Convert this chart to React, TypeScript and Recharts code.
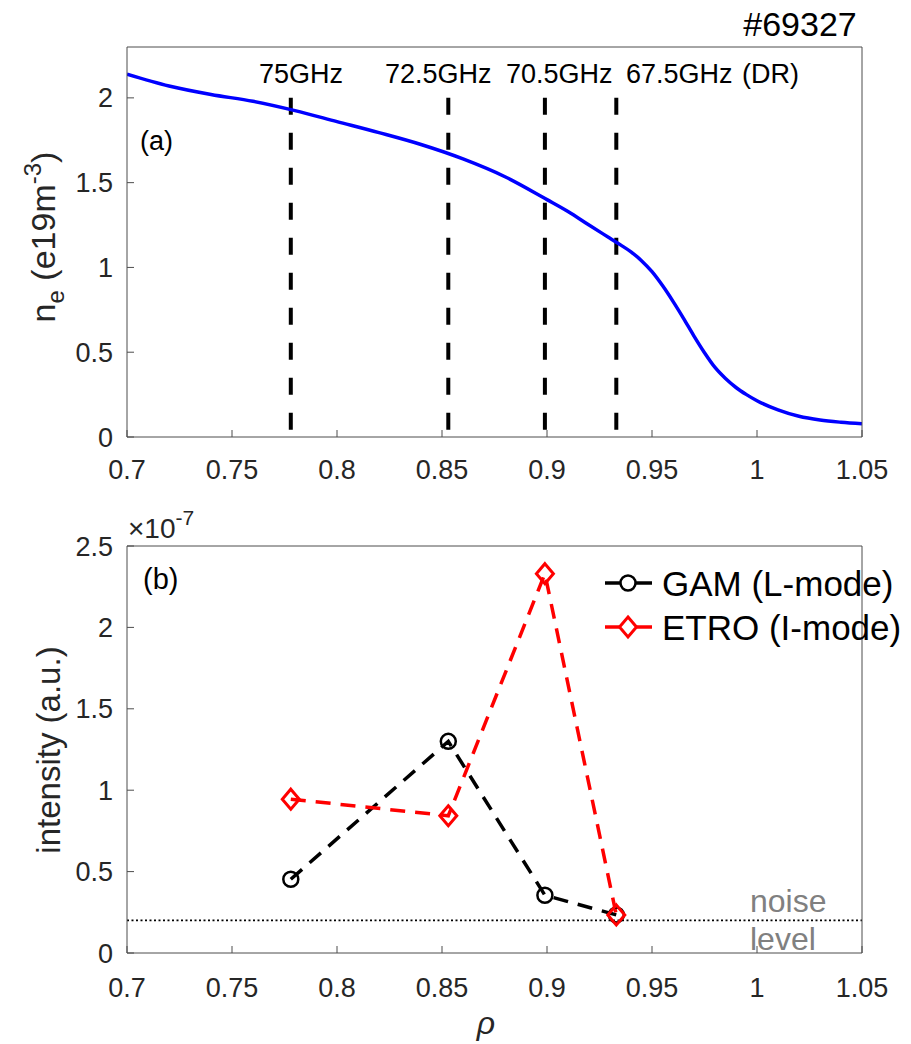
import { LineChart, Line, XAxis, YAxis, ReferenceLine, Legend } from 'recharts';

// panel (a): density profile
const rhoGrid = [0.70, 0.72, 0.74, 0.76, 0.78, 0.80, 0.82, 0.84, 0.86, 0.88, 0.90, 0.91, 0.92, 0.93, 0.935, 0.94, 0.945, 0.95, 0.955, 0.96, 0.965, 0.97, 0.975, 0.98, 0.985, 0.99, 0.995, 1.00, 1.01, 1.02, 1.03, 1.04, 1.05];
const neProfile = [2.14, 2.07, 2.02, 1.98, 1.925, 1.86, 1.795, 1.725, 1.64, 1.535, 1.40, 1.33, 1.25, 1.172, 1.133, 1.092, 1.04, 0.975, 0.893, 0.80, 0.70, 0.595, 0.497, 0.41, 0.345, 0.292, 0.25, 0.214, 0.16, 0.122, 0.10, 0.087, 0.078];

// DR channels
const channelRho = [0.778, 0.853, 0.899, 0.933];
const channelLabels = ['75GHz', '72.5GHz', '70.5GHz', '67.5GHz'];

// panel (b): intensity (x1e-7)
const gamIntensity = [0.453, 1.30, 0.355, 0.234];
const etroIntensity = [0.945, 0.843, 2.33, 0.234];
const noiseLevel = 0.2;

const rhoTicks = [0.7, 0.75, 0.8, 0.85, 0.9, 0.95, 1, 1.05];
const neTicks = [0, 0.5, 1, 1.5, 2];
const intensityTicks = [0, 0.5, 1, 1.5, 2, 2.5];

const profileData = rhoGrid.map((rho, i) => ({ rho, ne: neProfile[i] }));
const intensityData = channelRho.map((rho, i) => ({ rho, gam: gamIntensity[i], etro: etroIntensity[i] }));

const FONT = '"Liberation Sans", Arial, sans-serif';
const AXIS = '#4d4d4d';
const TXT = '#262626';
const tickStyle = { fontSize: 27, fill: TXT, fontFamily: FONT };

const fmt = (v: number) => String(v);

function circleDot(props: any) {
  const { cx, cy, index } = props;
  return <circle key={`c${index}`} cx={cx} cy={cy} r={7.5} fill="none" stroke="#000" strokeWidth={2.5} />;
}

function diamondDot(props: any) {
  const { cx, cy, index } = props;
  return (
    <path
      key={`d${index}`}
      d={`M${cx},${cy - 10} L${cx + 8.5},${cy} L${cx},${cy + 10} L${cx - 8.5},${cy} Z`}
      fill="none"
      stroke="#ff0000"
      strokeWidth={3}
    />
  );
}

function LegendBox(props: any) {
  const { payload = [] } = props;
  const order = ['gam', 'etro'];
  const items = order.map((k) => payload.find((p: any) => p.dataKey === k)).filter(Boolean);
  return (
    <div style={{ fontFamily: FONT, fontSize: 35, color: '#000', lineHeight: 1 }}>
      {items.map((p: any) => (
        <div key={p.value} style={{ display: 'flex', alignItems: 'center', height: 44 }}>
          <svg width={58} height={30} style={{ marginRight: 2, flex: 'none' }}>
            <line x1={3} y1={15} x2={50} y2={15} stroke={p.color} strokeWidth={3.5} />
            {p.dataKey === 'gam' ? (
              <circle cx={26} cy={15} r={7.5} fill="#fff" stroke={p.color} strokeWidth={2.5} />
            ) : (
              <path d="M26,5 L34.5,15 L26,25 L17.5,15 Z" fill="#fff" stroke={p.color} strokeWidth={3} />
            )}
          </svg>
          <span style={{ whiteSpace: 'nowrap' }}>{p.value}</span>
        </div>
      ))}
    </div>
  );
}

function DensityPanel() {
  return (
    <LineChart width={911} height={500} data={profileData} margin={{ top: 37, right: 39, bottom: 23, left: 67 }}>
      <XAxis
        xAxisId="b"
        dataKey="rho"
        type="number"
        domain={[0.7, 1.05]}
        ticks={rhoTicks}
        tickFormatter={fmt}
        height={40}
        tickSize={-7}
        tickMargin={30}
        stroke={AXIS}
        tick={tickStyle}
        allowDataOverflow
      />
      <XAxis xAxisId="t" orientation="top" dataKey="rho" type="number" domain={[0.7, 1.05]} ticks={rhoTicks} height={10} tickSize={-7} tick={false} stroke={AXIS} />
      <YAxis
        yAxisId="l"
        domain={[0, 2.3]}
        ticks={neTicks}
        tickFormatter={fmt}
        width={60}
        tickSize={-7}
        tickMargin={21}
        stroke={AXIS}
        tick={tickStyle}
        allowDataOverflow
      />
      <YAxis yAxisId="r" orientation="right" domain={[0, 2.3]} ticks={neTicks} width={10} tickSize={-7} tick={false} stroke={AXIS} />
      {channelRho.map((r) => (
        <ReferenceLine
          key={r}
          xAxisId="b"
          yAxisId="l"
          segment={[{ x: r, y: 2 }, { x: r, y: 0 }]}
          stroke="#000"
          strokeWidth={4}
          strokeDasharray="17 18"
        />
      ))}
      <Line
        xAxisId="b"
        yAxisId="l"
        type="monotone"
        dataKey="ne"
        stroke="#0000ff"
        strokeWidth={3.5}
        dot={false}
        isAnimationActive={false}
      />
      <text x={800} y={36} textAnchor="middle" fontFamily={FONT} fontSize={34} fill="#000">#69327</text>
      <g fontFamily={FONT} fontSize={27} fill="#000">
        <text x={259} y={83}>{channelLabels[0]}</text>
        <text x={385} y={83}>{channelLabels[1]}</text>
        <text x={506} y={83}>{channelLabels[2]}</text>
        <text x={626} y={83}>{channelLabels[3]}</text>
        <text x={742} y={83}>(DR)</text>
        <text x={140} y={150}>(a)</text>
      </g>
      <text
        x={0}
        y={0}
        transform="translate(55,237) rotate(-90)"
        textAnchor="middle"
        fontFamily={FONT}
        fontSize={34}
        fill={TXT}
      >
        n<tspan fontSize={24} dy={9}>e</tspan>
        <tspan dy={-9}> (e19m</tspan>
        <tspan fontSize={24} dy={-14}>-3</tspan>
        <tspan dy={14}>)</tspan>
      </text>
    </LineChart>
  );
}

function IntensityPanel() {
  return (
    <LineChart width={911} height={544} data={intensityData} margin={{ top: 36, right: 39, bottom: 41, left: 67 }}>
      <XAxis
        xAxisId="b"
        dataKey="rho"
        type="number"
        domain={[0.7, 1.05]}
        ticks={rhoTicks}
        tickFormatter={fmt}
        height={50}
        tickSize={-7}
        tickMargin={32}
        stroke={AXIS}
        tick={tickStyle}
        allowDataOverflow
      />
      <XAxis xAxisId="t" orientation="top" dataKey="rho" type="number" domain={[0.7, 1.05]} ticks={rhoTicks} height={10} tickSize={-7} tick={false} stroke={AXIS} />
      <YAxis
        yAxisId="l"
        domain={[0, 2.5]}
        ticks={intensityTicks}
        tickFormatter={fmt}
        width={60}
        tickSize={-7}
        tickMargin={21}
        stroke={AXIS}
        tick={tickStyle}
        allowDataOverflow
      />
      <YAxis yAxisId="r" orientation="right" domain={[0, 2.5]} ticks={intensityTicks} width={10} tickSize={-7} tick={false} stroke={AXIS} />
      <ReferenceLine xAxisId="b" yAxisId="l" y={noiseLevel} stroke="#000" strokeWidth={1.8} strokeDasharray="2 2.5" />
      <Line
        xAxisId="b"
        yAxisId="l"
        dataKey="gam"
        name="GAM (L-mode)"
        stroke="#000"
        strokeWidth={3.5}
        strokeDasharray="15 10"
        dot={circleDot}
        isAnimationActive={false}
      />
      <Line
        xAxisId="b"
        yAxisId="l"
        dataKey="etro"
        name="ETRO (I-mode)"
        stroke="#ff0000"
        strokeWidth={3.5}
        strokeDasharray="15 10"
        dot={diamondDot}
        isAnimationActive={false}
      />
      <Legend
        layout="horizontal"
        verticalAlign="middle"
        align="center"
        content={LegendBox}
        wrapperStyle={{ position: 'absolute', top: 61, left: 602, width: 320 }}
      />
      <g fontFamily={FONT} fill={TXT}>
        <text x={128} y={38} fontSize={28}>×10<tspan fontSize={21} dy={-13}>-7</tspan></text>
        <text x={143} y={89} fontSize={29} fill="#000">(b)</text>
      </g>
      <g fontFamily={FONT} fontSize={32} fill="#808080">
        <text x={750} y={412}>noise</text>
        <text x={750} y={450}>level</text>
      </g>
      <text
        x={0}
        y={0}
        transform="translate(60,250) rotate(-90)"
        textAnchor="middle"
        fontFamily={FONT}
        fontSize={33}
        fill={TXT}
      >
        intensity (a.u.)
      </text>
      <text x={486} y={534} textAnchor="middle" fontFamily={FONT} fontStyle="italic" fontSize={32} fill={TXT}>ρ</text>
    </LineChart>
  );
}

export default function App() {
  return (
    <div style={{ position: 'absolute', left: 0, top: 0, width: 911, height: 1044, background: '#fff' }}>
      <DensityPanel />
      <IntensityPanel />
    </div>
  );
}
